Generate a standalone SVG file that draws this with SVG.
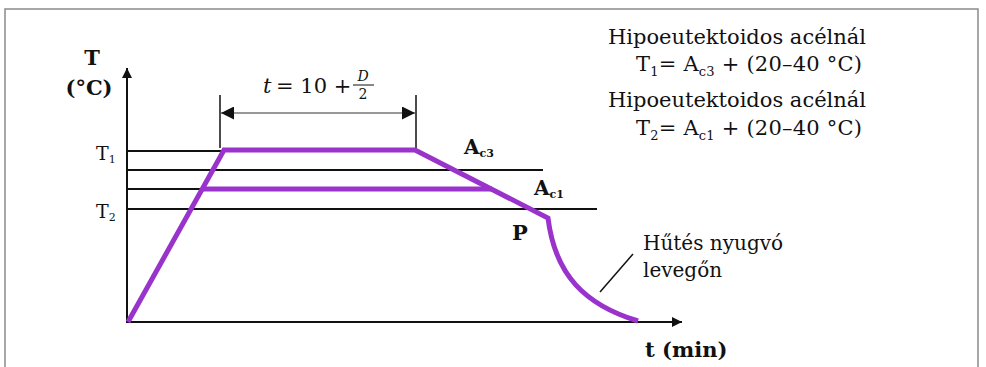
<svg xmlns="http://www.w3.org/2000/svg" width="986" height="367" viewBox="0 0 986 367">
<defs>
<style>
.serif{font-family:"DejaVu Serif","Liberation Serif",serif;fill:#111}
.b{font-weight:bold}
.ln{stroke:#111;stroke-width:2;fill:none}
.pur{stroke:#9933cc;stroke-width:5;fill:none;stroke-linejoin:miter}
</style>
<marker id="ah" viewBox="0 0 10 10" refX="10" refY="5" markerWidth="10" markerHeight="10" markerUnits="userSpaceOnUse" orient="auto-start-reverse"><path d="M0,0 L10,5 L0,10 z" fill="#111"/></marker>
<marker id="dh" viewBox="0 0 12 12" refX="12" refY="6" markerWidth="13" markerHeight="13" markerUnits="userSpaceOnUse" orient="auto-start-reverse"><path d="M0,0 L12,6 L0,12 z" fill="#111"/></marker>
</defs>
<rect width="986" height="367" fill="#fff"/>
<rect x="5" y="9" width="973" height="380" fill="none" stroke="#8a8a8a" stroke-width="1.5"/>

<g id="axes">
<line class="ln" x1="127" y1="323" x2="127" y2="68" stroke-width="2.5" marker-end="url(#ah)"/>
<line class="ln" x1="126" y1="322" x2="682" y2="322" stroke-width="2.5" marker-end="url(#ah)"/>
</g>

<g id="levels">
<line class="ln" x1="127" y1="151" x2="224" y2="151"/>
<line class="ln" x1="127" y1="170" x2="543" y2="170"/>
<line class="ln" x1="127" y1="189" x2="205" y2="189"/>
<line class="ln" x1="127" y1="209" x2="597" y2="209"/>
</g>

<g id="dimension">
<line x1="220" y1="95" x2="220" y2="148" stroke="#111" stroke-width="1.5"/>
<line x1="416" y1="95" x2="416" y2="148" stroke="#111" stroke-width="1.5"/>
<line x1="221" y1="113" x2="415" y2="113" stroke="#333" stroke-width="1" marker-start="url(#dh)" marker-end="url(#dh)"/>
<text class="serif" x="263" y="93" font-size="21" font-style="italic">t</text>
<text class="serif" x="276" y="93" font-size="21">= 10 +</text>
<text class="serif" x="363" y="81" font-size="14" font-style="italic" text-anchor="middle">D</text>
<line x1="353" y1="85" x2="374" y2="85" stroke="#111" stroke-width="1"/>
<text class="serif" x="363" y="99" font-size="14" text-anchor="middle">2</text>
</g>

<g id="curve">
<path class="pur" d="M128,322 L224,150 L415,150 L548,218 C555,275 585,305 638,321"/>
<path class="pur" d="M203,189 L492,189"/>
</g>

<g id="labels">
<text class="serif b" x="92" y="65" font-size="21" text-anchor="middle">T</text>
<text class="serif b" x="89" y="95" font-size="21" text-anchor="middle">(°C)</text>
<text class="serif" x="96" y="160" font-size="19">T<tspan font-size="11" dy="3">1</tspan></text>
<text class="serif" x="96" y="218" font-size="19">T<tspan font-size="11" dy="3">2</tspan></text>
<text class="serif b" x="464" y="154" font-size="20">A<tspan font-size="11" dy="3">c3</tspan></text>
<text class="serif b" x="534" y="195" font-size="20">A<tspan font-size="11" dy="3">c1</tspan></text>
<text class="serif b" x="512" y="240" font-size="21">P</text>
<text class="serif b" x="645" y="357" font-size="21">t (min)</text>
</g>

<g id="legend">
<text class="serif" x="608" y="44" font-size="21" textLength="258">Hipoeutektoidos acélnál</text>
<text class="serif" x="636" y="71" font-size="21" textLength="226">T<tspan font-size="13" dy="5">1</tspan><tspan dy="-5">= A</tspan><tspan font-size="13" dy="5">c3</tspan><tspan dy="-5"> + (20–40 °C)</tspan></text>
<text class="serif" x="608" y="107" font-size="21" textLength="258">Hipoeutektoidos acélnál</text>
<text class="serif" x="636" y="135" font-size="21" textLength="226">T<tspan font-size="13" dy="5">2</tspan><tspan dy="-5">= A</tspan><tspan font-size="13" dy="5">c1</tspan><tspan dy="-5"> + (20–40 °C)</tspan></text>
</g>

<g id="note">
<line x1="633" y1="254" x2="600" y2="292" stroke="#111" stroke-width="1.5"/>
<text class="serif" x="643" y="250" font-size="20">Hűtés nyugvó</text>
<text class="serif" x="643" y="277" font-size="20">levegőn</text>
</g>
</svg>
